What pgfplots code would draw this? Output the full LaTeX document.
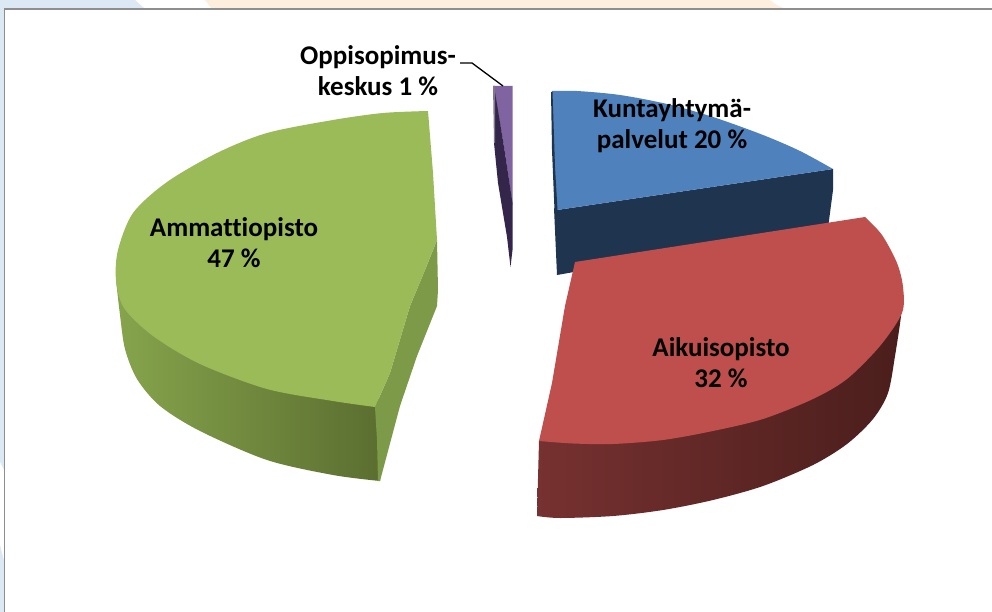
\documentclass[border=0pt]{standalone}
\usepackage{fontspec}
\setmainfont[Ligatures=NoCommon]{Carlito}
\usepackage{pgfplots}
\pgfplotsset{compat=1.18}
\definecolor{gtop}{HTML}{9BBB59}
\definecolor{gwall}{HTML}{7C9A47}
\definecolor{gsideL}{HTML}{86A44C}
\definecolor{gsideR}{HTML}{5B6E30}
\definecolor{rtop}{HTML}{BE4F4C}
\definecolor{rsideL}{HTML}{763130}
\definecolor{rsideR}{HTML}{4A1E1C}
\definecolor{btop}{HTML}{4F81BD}
\definecolor{bside}{HTML}{1F344F}
\definecolor{ptop}{HTML}{8064A2}
\definecolor{pside}{HTML}{33264A}
\definecolor{bgblue}{HTML}{DCE8F3}
\definecolor{bgpeach}{HTML}{FDEEDD}
\definecolor{frame}{HTML}{8E8E8E}
\begin{document}
\begin{tikzpicture}
\begin{axis}[
  width=992pt,height=612pt,scale only axis,hide axis,
  xmin=0,xmax=992,ymin=0,ymax=612,y dir=reverse,
  enlargelimits=false,
  every axis plot/.append style={no marks,draw=none},
]
% background
\addplot[fill=white] coordinates {(0,0)(992,0)(992,612)(0,612)} -- cycle;
\addplot[fill=bgblue] coordinates {(0,0)(135,0)(145,9)(0,9)} -- cycle;
\addplot[fill=bgpeach] coordinates {(205,0)(770,0)(775,4)(785,9)(212,9)} -- cycle;
\addplot[fill=bgblue] coordinates {(0,0)(4,0)(4,612)(0,612)} -- cycle;
\addplot[fill=white] coordinates {(0,462)(4,470)(4,560)(0,545)} -- cycle;
% frame
\addplot[draw=frame,line width=1.6pt] coordinates {(4.5,612)(4.5,9)(992,9)};
% purple slice
\addplot[fill=ptop] coordinates {(493,86)(512.5,86)(512.5,205)(505,153)(495,95)} -- cycle;
\addplot[fill=pside] coordinates {(495,92)(505,153)(512.5,203)(512.5,250)(510.5,267)(507,237)(498,183)(494,143)} -- cycle;
\addplot[fill=gray!70!ptop] coordinates {(493,86)(495,86)(495,143)(494,143)} -- cycle;
% blue slice
\addplot[fill=bside] coordinates {(554,208)(557,210)(833,169)(833,190)(828,228)(574,272)(557,275)} -- cycle;
\addplot[fill=btop,smooth] coordinates {(552,91)(577,91)(620,95)(667,104)(713,117)(763,135)(800,151)(833,169)} -- (axis cs:557,210) -- (axis cs:554,167) -- cycle;
\addplot[fill=bside] coordinates {(551,92)(552.5,92)(555,167)(557.5,210)(554.5,210)(552,150)} -- cycle;
% green slice
\addplot[left color=gsideL,right color=gsideR,smooth] coordinates {(116,280)(120,315)(125,349)(137,379)(160,406)(200,431)(267,460)(333,475)(380,481)} -- (axis cs:380,400) -- (axis cs:116,260) -- cycle;
\addplot[fill=gwall] coordinates {(437,240)(438,290)(437,306)(417,356)(400,406)(380,481)(378,481)(377,440)(375,407)(390,373)(410,306)(425,270)} -- cycle;
\addplot[fill=gtop,smooth] coordinates {(428,111)(383,113)(333,120)(267,133)(217,153)(167,182)(133,213)(118,250)(116,280)(124,308)(153,336)(200,364)(267,389)(333,401)(375,407)} -- (axis cs:390,373) -- (axis cs:410,306) -- (axis cs:425,270) -- (axis cs:437,240) -- (axis cs:433,173) -- cycle;
% red slice
\addplot[left color=rsideL,middle color=rsideR,right color=rsideR,smooth] coordinates {(537,516)(560,518)(613,516)(663,510)(713,500)(763,486)(813,465)(847,444)(873,419)(888,393)(895,356)(901,316)(903,287)} -- (axis cs:880,320) -- (axis cs:700,400) -- (axis cs:539,441) -- cycle;
\addplot[fill=rtop,smooth] coordinates {(865,217)(882,235)(897,263)(903,287)(902,313)(880,346)(847,379)(813,399)(763,419)(713,431)(663,440)(613,444)(573,443.5)(539,441)} -- (axis cs:552,383) -- (axis cs:565,306) -- (axis cs:575,262) -- cycle;
% leader
\addplot[draw=black,line width=1.3pt] coordinates {(460,63)(472,63)(503,86)};
% labels
\node[align=center,font=\fontsize{27}{31}\bfseries\selectfont] at (axis cs:378,71) {Oppisopimus-\\keskus 1 \%};
\node[align=center,font=\fontsize{27}{31}\bfseries\selectfont] at (axis cs:672,126) {Kuntayhtymä-\\palvelut 20 \%};
\node[align=center,font=\fontsize{27}{31}\bfseries\selectfont] at (axis cs:721,363) {Aikuisopisto\\32 \%};
\node[align=center,font=\fontsize{27}{31}\bfseries\selectfont] at (axis cs:234,243) {Ammattiopisto\\47 \%};
\end{axis}
\pgfresetboundingbox
\path[use as bounding box] (0,0) rectangle (992pt,612pt);
\end{tikzpicture}
\end{document}
